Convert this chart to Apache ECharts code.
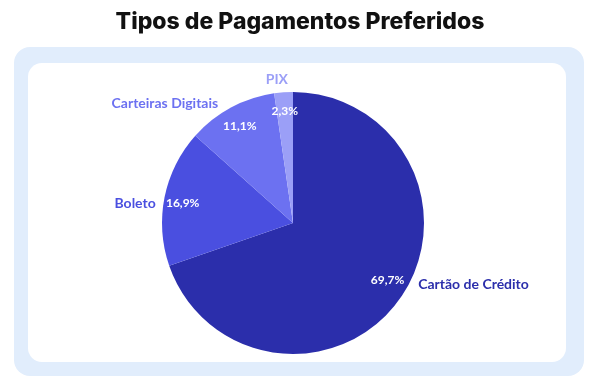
<!DOCTYPE html>
<html>
<head>
<meta charset="utf-8">
<script src="https://cdn.jsdelivr.net/npm/echarts@6/dist/echarts.min.js"></script>
<style>
  html, body { margin: 0; padding: 0; background: #fff; }
  #chart { width: 600px; height: 390px; }
</style>
</head>
<body>
<div id="chart"></div>
<script>
const categories = ['Cartão de Crédito', 'Boleto', 'Carteiras Digitais', 'PIX'];
const shares = [69.7, 16.9, 11.1, 2.3];
const colors = ['#2b2eab', '#4a4fe0', '#6c71f1', '#9b9ff7'];

// small nudges so labels sit where the original put them
const nameNudge = [[3, -19], [8, 8], [0, 3], [14, -5]];
const pctNudge = [[3, -8], [0, 2], [0, 2], [0, 0]];

const pieData = categories.map((name, i) => ({
    name: name,
    value: shares[i],
    itemStyle: { color: colors[i] },
    label: { color: colors[i] }
}));

const chart = echarts.init(document.getElementById('chart'), null, { renderer: 'canvas' });

chart.setOption({
    animation: false,
    title: {
        text: 'Tipos de Pagamentos Preferidos',
        left: 'center',
        top: 6,
        textStyle: { fontFamily: 'Inter', fontWeight: 800, fontSize: 23, color: '#111' }
    },
    graphic: [
        { type: 'rect', shape: { x: 14, y: 47, width: 570, height: 329, r: 16 }, style: { fill: '#e1edfc' }, z: -10 },
        { type: 'rect', shape: { x: 28, y: 63, width: 538, height: 299, r: 14 }, style: { fill: '#ffffff' }, z: -9 }
    ],
    series: [
        {
            // slices + outer name labels
            type: 'pie',
            center: [293, 223],
            radius: 131,
            startAngle: 90,
            clockwise: true,
            data: pieData,
            label: {
                show: true,
                position: 'outside',
                formatter: '{b}',
                fontFamily: 'Lato',
                fontSize: 14,
                fontWeight: 'bold'
            },
            labelLine: { show: false, length: 8, length2: 4 },
            labelLayout: p => ({ dx: nameNudge[p.dataIndex][0], dy: nameNudge[p.dataIndex][1] }),
            emphasis: { disabled: true }
        },
        {
            // percentage labels inside slices
            type: 'pie',
            center: [293, 223],
            radius: [88, 131],
            startAngle: 90,
            clockwise: true,
            silent: true,
            data: categories.map((name, i) => ({ name: name, value: shares[i] })),
            itemStyle: { color: 'rgba(0,0,0,0)' },
            label: {
                show: true,
                position: 'inside',
                formatter: p => String(p.value).replace('.', ',') + '%',
                color: '#fff',
                fontFamily: 'Lato',
                fontWeight: 'bold',
                fontSize: 12
            },
            labelLine: { show: false },
            labelLayout: p => ({ dx: pctNudge[p.dataIndex][0], dy: pctNudge[p.dataIndex][1] })
        }
    ]
});
</script>
</body>
</html>
